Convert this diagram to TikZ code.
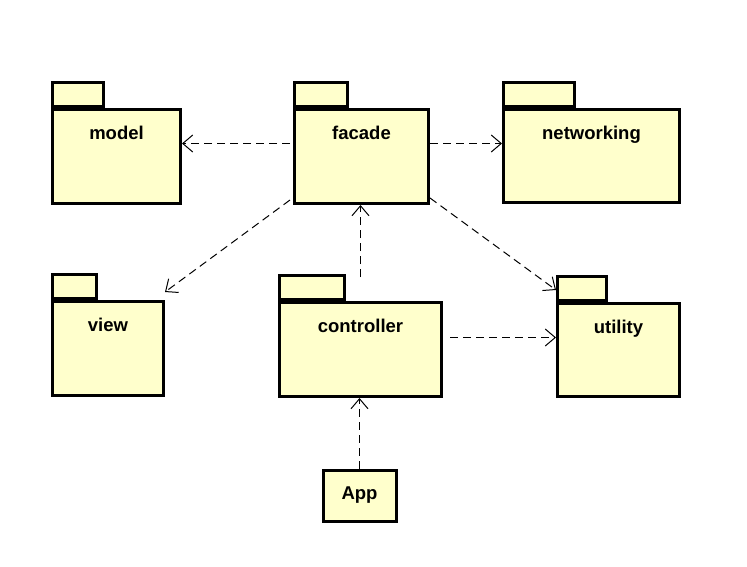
\documentclass[tikz,border=0pt]{standalone}
\usepackage{fontspec}
\setmainfont{Liberation Sans}
\usetikzlibrary{arrows.meta}
\definecolor{pkgfill}{RGB}{255,255,204}
\begin{document}
\begin{tikzpicture}[x=1pt,y=-1pt,
    pkgbody/.style={draw, line width=3pt, fill=pkgfill, anchor=north west, inner sep=0pt},
    pkgtab/.style={draw, line width=3pt, fill=pkgfill, anchor=south west, inner sep=0pt, minimum height=24},
    pkgname/.style={anchor=base, font=\fontsize{18.5}{22}\selectfont\bfseries},
    dep/.style={draw, line width=1pt, dash pattern=on 8pt off 5pt, -{Straight Barb[length=10pt,width=17pt,line width=1pt]}}]
  \useasboundingbox (0,0) rectangle (747,566);
  % packages
  \node[pkgbody, minimum width=128, minimum height=94] (model) at (51,108) {};
  \node[pkgtab, minimum width=51] (modeltab) at (model.north west) {};
  \node[pkgname] (modellbl) at ([yshift=-31pt]model.north) {model};

  \node[pkgbody, minimum width=134, minimum height=94] (facade) at (293,108) {};
  \node[pkgtab, minimum width=53] (facadetab) at (facade.north west) {};
  \node[pkgname] (facadelbl) at ([yshift=-31pt]facade.north) {facade};

  \node[pkgbody, minimum width=176, minimum height=93] (net) at (502,108) {};
  \node[pkgtab, minimum width=71] (nettab) at (net.north west) {};
  \node[pkgname] (netlbl) at ([yshift=-31pt]net.north) {networking};

  \node[pkgbody, minimum width=111, minimum height=94] (view) at (51,300) {};
  \node[pkgtab, minimum width=44] (viewtab) at (view.north west) {};
  \node[pkgname] (viewlbl) at ([yshift=-31pt]view.north) {view};

  \node[pkgbody, minimum width=162, minimum height=94] (ctrl) at (278,301) {};
  \node[pkgtab, minimum width=65] (ctrltab) at (ctrl.north west) {};
  \node[pkgname] (ctrllbl) at ([yshift=-31pt]ctrl.north) {controller};

  \node[pkgbody, minimum width=122, minimum height=93] (util) at (556,302) {};
  \node[pkgtab, minimum width=49] (utiltab) at (util.north west) {};
  \node[pkgname] (utillbl) at ([yshift=-31pt]util.north) {utility};

  \node[pkgbody, minimum width=73, minimum height=51, anchor=center,
        font=\fontsize{18.5}{22}\selectfont\bfseries] (app) at (359.5,495.5) {App};

  % dependencies
  \draw[dep] ([xshift=-3pt,yshift=13pt]facade.west) -- ([yshift=13pt]facade.west -| model.east);
  \draw[dep] ([yshift=13pt]facade.east) -- ([yshift=13pt]facade.east -| net.west);
  \draw[dep] ([xshift=-3pt,yshift=5pt]facade.south west) -- ([yshift=8pt]view.north east);
  \draw[dep] ([yshift=7pt]facade.south east) -- ([yshift=12pt]util.north west);
  \draw[dep] ([yshift=24pt]ctrl.north) -- (ctrl.north |- facade.south);
  \draw[dep] ([xshift=7pt,yshift=12pt]ctrl.east) -- ([yshift=12pt]ctrl.east -| util.west);
  \draw[dep] (app.north) -- (app.north |- ctrl.south);
\end{tikzpicture}
\end{document}
